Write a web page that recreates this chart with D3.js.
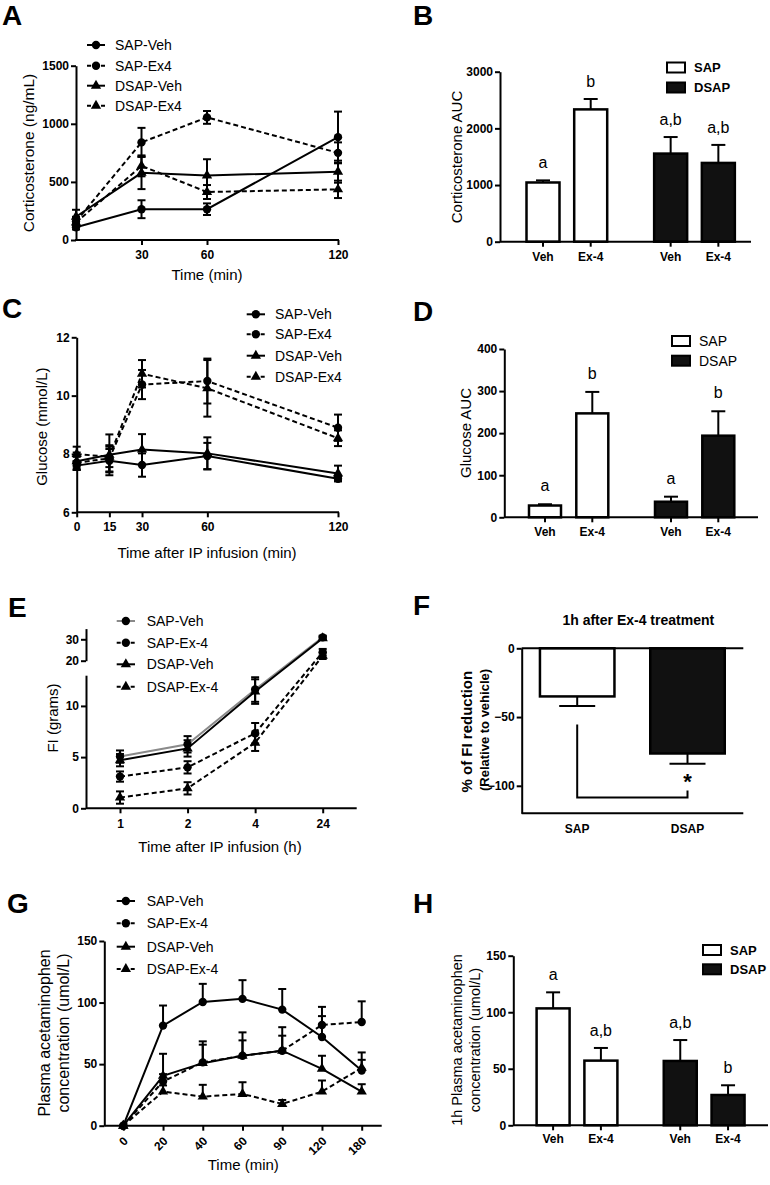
<!DOCTYPE html>
<html><head><meta charset="utf-8">
<script src="https://cdn.jsdelivr.net/npm/d3@7"></script>
<style>body{margin:0;background:#fff}</style>
</head><body><svg id="fig" width="770" height="1185"></svg>
<script>
// ================= DATA =================
// Panel A : corticosterone (ng/mL)
const timeA = [0, 30, 60, 120];
const aSapVeh = [110, 265, 265, 885];   const aSapVehErr = [20, 77, 50, 220];
const aSapEx4 = [160, 840, 1055, 750];  const aSapEx4Err = [40, 125, 55, 90];
const aDsapVeh = [200, 578, 555, 588];  const aDsapVehErr = [60, 140, 140, 95];
const aDsapEx4 = [150, 638, 413, 436];  const aDsapEx4Err = [40, 90, 60, 75];
const aYTicks = [0, 500, 1000, 1500];
const aXTicks = [30, 60, 120];

// Panel B : corticosterone AUC
const groups = ["SAP", "DSAP"];
const treatments = ["Veh", "Ex-4"];
const bMeans = [1045, 2335, 1555, 1390];
const bErr = [37, 183, 292, 318];
const bLetters = ["a", "b", "a,b", "a,b"];
const bYTicks = [0, 1000, 2000, 3000];

// Panel C : glucose (mmol/L)
const timeC = [0, 15, 30, 60, 120];
const cSapVeh = [7.6, 7.77, 7.62, 7.93, 7.15];   const cSapVehErr = [0.15, 0.4, 0.4, 0.45, 0.08];
const cSapEx4 = [7.7, 7.85, 10.38, 10.5, 8.9];   const cSapEx4Err = [0.2, 0.45, 0.5, 0.77, 0.45];
const cDsapVeh = [7.75, 7.97, 8.15, 8.02, 7.33]; const cDsapVehErr = [0.3, 0.7, 0.53, 0.55, 0.27];
const cDsapEx4 = [8.0, 7.9, 10.75, 10.25, 8.54]; const cDsapEx4Err = [0.25, 0.35, 0.47, 0.97, 0.27];
const cYTicks = [6, 8, 10, 12];

// Panel D : glucose AUC
const dMeans = [28, 247, 37, 194];
const dErr = [3, 51, 12, 58];
const dLetters = ["a", "b", "a", "b"];
const dYTicks = [0, 100, 200, 300, 400];

// Panel E : food intake (grams)
const timeE = ["1", "2", "4", "24"];
const eSapVeh = [5.05, 6.25, 11.6, 30.9];  const eSapVehErr = [0.6, 0.8, 1.2, 0.8];
const eSapEx4 = [3.1, 4.0, 7.33, 24.0];    const eSapEx4Err = [0.5, 0.6, 1.0, 1.5];
const eDsapVeh = [4.7, 5.85, 11.4, 30.5];  const eDsapVehErr = [0.6, 0.8, 1.2, 0.8];
const eDsapEx4 = [1.05, 1.95, 6.4, 22.3];  const eDsapEx4Err = [0.6, 0.6, 0.8, 1.5];
const eYTicksLow = [0, 5, 10];
const eYTicksHigh = [20, 30];

// Panel F : % FI reduction
const fGroups = ["SAP", "DSAP"];
const fMeans = [-35, -76.5];
const fErr = [7, 7.5];
const fYTicks = [0, -50, -100];
const fBracket = [-55.5, -108.5, -103.5];

// Panel G : plasma acetaminophen (umol/L)
const timeG = ["0", "20", "40", "60", "90", "120", "180"];
const gSapVeh = [0, 81.3, 100.5, 103, 94.3, 72, 44.8];  const gSapVehErr = [0, 16.3, 14.7, 15.2, 16.7, 17, 8.7];
const gSapEx4 = [0, 35.9, 51.4, 56.8, 60.9, 81.8, 84.2]; const gSapEx4Err = [0, 6, 14.4, 12.5, 12.2, 14.7, 16.8];
const gDsapVeh = [0, 40.5, 50.8, 56.8, 60.9, 46.2, 27.7]; const gDsapVehErr = [0, 17.9, 17.7, 19, 19.1, 10.6, 6];
const gDsapEx4 = [0, 27.7, 23.6, 25.8, 17.7, 27.7, 47];  const gDsapEx4Err = [0, 5, 9.6, 9.5, 3.2, 9, 12.5];
const gYTicks = [0, 50, 100, 150];

// Panel H : 1h plasma acetaminophen
const hMeans = [103.4, 57.2, 56.9, 26.8];
const hErr = [14.2, 11.2, 18.5, 8.6];
const hLetters = ["a", "a,b", "a,b", "b"];
const hYTicks = [0, 50, 100, 150];

const namesA = ["SAP-Veh", "SAP-Ex4", "DSAP-Veh", "DSAP-Ex4"];
const namesE = ["SAP-Veh", "SAP-Ex-4", "DSAP-Veh", "DSAP-Ex-4"];

// ================= DRAWING =================
const FONT = "'Liberation Sans', Arial, Helvetica, sans-serif";
const svg = d3.select("#fig");
svg.append("rect").attr("width", 770).attr("height", 1185).attr("fill", "#fff");

function txt(x, y, s, size, weight, anchor) {
  return svg.append("text").attr("x", x).attr("y", y)
    .attr("font-family", FONT).attr("font-size", size)
    .attr("font-weight", weight || "normal")
    .attr("text-anchor", anchor || "start").attr("fill", "#000").text(s);
}
function vtxt(cx, cy, s, size, weight) {
  return svg.append("text")
    .attr("transform", `translate(${cx + size * 0.36},${cy}) rotate(-90)`)
    .attr("font-family", FONT).attr("font-size", size)
    .attr("font-weight", weight || "normal")
    .attr("text-anchor", "middle").attr("fill", "#000").text(s);
}
function styleAxis(g) {
  g.attr("font-family", FONT).attr("font-size", 12).attr("font-weight", "bold");
  g.selectAll("path.domain").attr("stroke", "#000").attr("stroke-width", 2);
  g.selectAll(".tick line").attr("stroke", "#000").attr("stroke-width", 2);
  g.selectAll(".tick text").attr("fill", "#000");
}
function yAxis(scale, x, ticks) {
  const g = svg.append("g").attr("transform", `translate(${x},0)`)
    .call(d3.axisLeft(scale).tickValues(ticks).tickSize(5).tickSizeOuter(0).tickPadding(2).tickFormat(d3.format("d")));
  styleAxis(g);
  return g;
}
function hline(x0, x1, y) {
  svg.append("line").attr("x1", x0).attr("x2", x1).attr("y1", y).attr("y2", y)
    .attr("stroke", "#000").attr("stroke-width", 2);
}
function xAxis(scale, y, x0, x1, ticks, pad) {
  const ax = d3.axisBottom(scale).tickSize(5).tickSizeOuter(0).tickPadding(pad);
  if (ticks) ax.tickValues(ticks);
  const g = svg.append("g").attr("transform", `translate(0,${y})`).call(ax);
  styleAxis(g);
  g.select("path.domain").remove();
  hline(x0, x1, y);
  return g;
}

const symCircle = d3.symbol().type(d3.symbolCircle).size(55);
const symTri = d3.symbol().type(d3.symbolTriangle).size(46);
const styles = [
  {sym: symCircle, dash: null},
  {sym: symCircle, dash: "5,3"},
  {sym: symTri, dash: null},
  {sym: symTri, dash: "5,3"}
];

function drawSeries(xs, ys, cats, series, errMode) {
  const capW = 8;
  series.forEach(s => {
    cats.forEach((c, i) => {
      const e = s.err[i];
      if (!e) return;
      const cx = xs(c);
      const yT = ys(s.vals[i] + e);
      const yB = errMode === "up" ? ys(s.vals[i]) : ys(s.vals[i] - e);
      svg.append("line").attr("x1", cx).attr("x2", cx).attr("y1", yT).attr("y2", yB)
        .attr("stroke", "#000").attr("stroke-width", 2);
      svg.append("line").attr("x1", cx - capW / 2).attr("x2", cx + capW / 2).attr("y1", yT).attr("y2", yT)
        .attr("stroke", "#000").attr("stroke-width", 2);
      if (errMode !== "up")
        svg.append("line").attr("x1", cx - capW / 2).attr("x2", cx + capW / 2).attr("y1", yB).attr("y2", yB)
          .attr("stroke", "#000").attr("stroke-width", 2);
    });
  });
  series.forEach((s, k) => {
    const line = d3.line().x((d, i) => xs(cats[i])).y(d => ys(d));
    svg.append("path").attr("d", line(s.vals)).attr("fill", "none")
      .attr("stroke", s.color || "#000").attr("stroke-width", 2)
      .attr("stroke-dasharray", styles[k].dash);
  });
  series.forEach((s, k) => {
    s.vals.forEach((v, i) => {
      svg.append("path").attr("d", styles[k].sym())
        .attr("transform", `translate(${xs(cats[i])},${ys(v)})`).attr("fill", "#000");
    });
  });
}

function lineLegend(x0, x1, tx, ys, names, colors, size) {
  names.forEach((n, k) => {
    const y = ys[k];
    svg.append("line").attr("x1", x0).attr("x2", x1).attr("y1", y).attr("y2", y)
      .attr("stroke", (colors && colors[k]) || "#000").attr("stroke-width", 2)
      .attr("stroke-dasharray", styles[k].dash ? "4,3" : null);
    svg.append("path").attr("d", styles[k].sym()).attr("transform", `translate(${(x0 + x1) / 2},${y})`).attr("fill", "#000");
    txt(tx, y + size * 0.36, n, size);
  });
}

function barPanel(o) {
  const y = o.y;
  const gx = d3.scalePoint().domain(groups).range(o.groupRange);
  const tx = d3.scalePoint().domain(treatments).range([-o.half, o.half]);
  const center = i => gx(groups[Math.floor(i / 2)]) + tx(treatments[i % 2]);
  o.means.forEach((m, i) => {
    const cx = center(i);
    const yt = y(o.means[i] + o.errs[i]);
    svg.append("line").attr("x1", cx).attr("x2", cx).attr("y1", y(m)).attr("y2", yt)
      .attr("stroke", "#000").attr("stroke-width", 2);
    svg.append("line").attr("x1", cx - 7).attr("x2", cx + 7).attr("y1", yt).attr("y2", yt)
      .attr("stroke", "#000").attr("stroke-width", 2);
    const black = Math.floor(i / 2) === 1;
    svg.append("rect").attr("x", cx - o.width / 2).attr("width", o.width)
      .attr("y", y(m)).attr("height", y(0) - y(m))
      .attr("fill", black ? "#111" : "#fff").attr("stroke", "#000").attr("stroke-width", 2.5);
    txt(cx, yt - o.letterGap, o.letters[i], 16, "normal", "middle");
  });
  yAxis(y, o.axisX, o.ticks);
  hline(o.axisX, o.axisRight, y(0));
  o.means.forEach((m, i) => {
    const cx = center(i);
    svg.append("line").attr("x1", cx).attr("x2", cx).attr("y1", y(0)).attr("y2", y(0) + 5)
      .attr("stroke", "#000").attr("stroke-width", 2);
    txt(cx, y(0) + o.labelDy, treatments[i % 2], 12, "bold", "middle");
  });
  // legend
  groups.forEach((gname, k) => {
    const ly = o.legendY[k];
    svg.append("rect").attr("x", o.legendX).attr("y", ly - 5).attr("width", 18).attr("height", 10)
      .attr("fill", k === 1 ? "#111" : "#fff").attr("stroke", "#000").attr("stroke-width", 2);
    txt(o.legendX + 27, ly + o.legendSize * 0.36, gname, o.legendSize, o.legendWeight);
  });
}

// ---------- Panel A ----------
txt(2, 25, "A", 28, "bold");
{
  const x = d3.scaleLinear().domain([0, 120]).range([76, 338]);
  const y = d3.scaleLinear().domain([0, 1500]).range([240, 65.7]);
  drawSeries(x, y, timeA, [
    {vals: aSapVeh, err: aSapVehErr},
    {vals: aSapEx4, err: aSapEx4Err},
    {vals: aDsapVeh, err: aDsapVehErr},
    {vals: aDsapEx4, err: aDsapEx4Err}
  ], "both");
  yAxis(y, 76, aYTicks);
  xAxis(x, 240, 75, 339, aXTicks, 5);
  lineLegend(87, 105, 115, [45, 65.7, 85.7, 105.7], namesA, null, 14);
  vtxt(28, 153, "Corticosterone (ng/mL)", 15.5);
  txt(207, 280, "Time (min)", 15, "normal", "middle");
}

// ---------- Panel B ----------
txt(413, 25, "B", 28, "bold");
barPanel({
  y: d3.scaleLinear().domain([0, 3000]).range([241.7, 71.7]),
  groupRange: [566.85, 694.5], half: 23.85, width: 33,
  means: bMeans, errs: bErr, letters: bLetters, letterGap: 12,
  axisX: 500, axisRight: 751, ticks: bYTicks, labelDy: 19,
  legendX: 667, legendY: [67.5, 87.5], legendSize: 13, legendWeight: "bold"
});
vtxt(456.7, 157, "Corticosterone AUC", 15);

// ---------- Panel C ----------
txt(2, 318, "C", 28, "bold");
{
  const x = d3.scaleLinear().domain([0, 120]).range([76.7, 338]);
  const y = d3.scaleLinear().domain([6, 12]).range([512.3, 337.3]);
  drawSeries(x, y, timeC, [
    {vals: cSapVeh, err: cSapVehErr},
    {vals: cSapEx4, err: cSapEx4Err},
    {vals: cDsapVeh, err: cDsapVehErr},
    {vals: cDsapEx4, err: cDsapEx4Err}
  ], "both");
  yAxis(y, 76.7, cYTicks);
  xAxis(x, 512.3, 76.7, 339, timeC, 5);
  lineLegend(246.7, 265, 275, [314.3, 334.3, 355.7, 376.7], namesA, null, 14);
  vtxt(41.7, 426.7, "Glucose (mmol/L)", 15);
  txt(207, 558, "Time after IP infusion (min)", 15, "normal", "middle");
}

// ---------- Panel D ----------
txt(413, 321, "D", 28, "bold");
barPanel({
  y: d3.scaleLinear().domain([0, 400]).range([517.3, 349]),
  groupRange: [568.65, 694.65], half: 23.65, width: 32,
  means: dMeans, errs: dErr, letters: dLetters, letterGap: 13,
  axisX: 504.3, axisRight: 758, ticks: dYTicks, labelDy: 19,
  legendX: 672, legendY: [341, 360.7], legendSize: 14, legendWeight: "normal"
});
vtxt(466, 433, "Glucose AUC", 15);

// ---------- Panel E ----------
txt(8, 617, "E", 28, "bold");
{
  const x = d3.scalePoint().domain(timeE).range([120, 322.7]);
  const yLow = d3.scaleLinear().domain([0, 13]).range([808.3, 675.2]);
  const yHigh = d3.scaleLinear().domain([20, 35]).range([660.7, 628.6]);
  const y = v => (v >= 17 ? yHigh(v) : yLow(v));
  drawSeries(x, y, timeE, [
    {vals: eSapVeh, err: eSapVehErr, color: "#8a8a8a"},
    {vals: eSapEx4, err: eSapEx4Err},
    {vals: eDsapVeh, err: eDsapVehErr},
    {vals: eDsapEx4, err: eDsapEx4Err}
  ], "both");
  yAxis(yLow, 86, eYTicksLow);
  yAxis(yHigh, 86, eYTicksHigh);
  xAxis(x, 808.3, 86, 356.7, null, 6);
  lineLegend(116.7, 135, 146.7, [621, 642.7, 664.3, 686.7], namesE, ["#8a8a8a", "#000", "#000", "#000"], 14);
  vtxt(53, 718, "FI (grams)", 15);
  txt(220, 852, "Time after IP infusion (h)", 15, "normal", "middle");
}

// ---------- Panel F ----------
txt(413, 615, "F", 28, "bold");
{
  const y = d3.scaleLinear().domain([-120, 0]).range([813.3, 648.3]);
  const x = d3.scalePoint().domain(fGroups).range([577.2, 687.5]);
  const w = 74.5;
  fMeans.forEach((m, i) => {
    const cx = x(fGroups[i]);
    const yb = y(m - fErr[i]);
    svg.append("line").attr("x1", cx).attr("x2", cx).attr("y1", y(m)).attr("y2", yb)
      .attr("stroke", "#000").attr("stroke-width", 2);
    svg.append("line").attr("x1", cx - 18).attr("x2", cx + 18).attr("y1", yb).attr("y2", yb)
      .attr("stroke", "#000").attr("stroke-width", 2);
    svg.append("rect").attr("x", cx - w / 2).attr("width", w).attr("y", y(0)).attr("height", y(m) - y(0))
      .attr("fill", i === 1 ? "#111" : "#fff").attr("stroke", "#000").attr("stroke-width", 2.5);
    txt(cx, 832.5, fGroups[i], 12, "bold", "middle");
  });
  const c0 = x(fGroups[0]), c1 = x(fGroups[1]);
  svg.append("path").attr("d", `M${c0},${y(fBracket[0])}V${y(fBracket[1])}H${c1}V${y(fBracket[2])}`)
    .attr("fill", "none").attr("stroke", "#000").attr("stroke-width", 2);
  txt(c1, 789, "*", 22, "bold", "middle");
  yAxis(y, 521.7, fYTicks);
  hline(521.7, 743.3, y(0));
  hline(521.7, 743.3, 813.3);
  txt(638.3, 625, "1h after Ex-4 treatment", 14, "bold", "middle");
  vtxt(466.7, 731.7, "% of FI reduction", 15, "bold");
  vtxt(484.3, 730, "(Relative to vehicle)", 13, "bold");
}

// ---------- Panel G ----------
txt(7, 913, "G", 28, "bold");
{
  const x = d3.scalePoint().domain(timeG).range([123.3, 361.7]);
  const y = d3.scaleLinear().domain([0, 150]).range([1125.7, 941]);
  drawSeries(x, y, timeG, [
    {vals: gSapVeh, err: gSapVehErr},
    {vals: gSapEx4, err: gSapEx4Err},
    {vals: gDsapVeh, err: gDsapVehErr},
    {vals: gDsapEx4, err: gDsapEx4Err}
  ], "up");
  yAxis(y, 104.3, gYTicks);
  const g = xAxis(x, 1125.7, 104.3, 381.7, null, 0);
  g.selectAll(".tick text").attr("y", 0).attr("dy", 0).attr("x", 0)
    .attr("text-anchor", "end").attr("transform", "translate(5,16) rotate(-45)");
  lineLegend(116.7, 135, 146.7, [901, 923.3, 946.7, 969], namesE, null, 14);
  vtxt(44.3, 1033, "Plasma acetaminophen", 16);
  vtxt(63.3, 1033, "concentration (umol/L)", 16);
  txt(243.3, 1170, "Time (min)", 15, "normal", "middle");
}

// ---------- Panel H ----------
txt(413, 913, "H", 28, "bold");
barPanel({
  y: d3.scaleLinear().domain([0, 150]).range([1125.3, 955.7]),
  groupRange: [577, 704.15], half: 23.9, width: 33,
  means: hMeans, errs: hErr, letters: hLetters, letterGap: 12,
  axisX: 513.3, axisRight: 768, ticks: hYTicks, labelDy: 18,
  legendX: 703, legendY: [950, 969.3], legendSize: 13, legendWeight: "bold"
});
vtxt(456.7, 1040, "1h Plasma acetaminophen", 14.5);
vtxt(475, 1040, "concentration (umol/L)", 14.5);
</script>
</body></html>
